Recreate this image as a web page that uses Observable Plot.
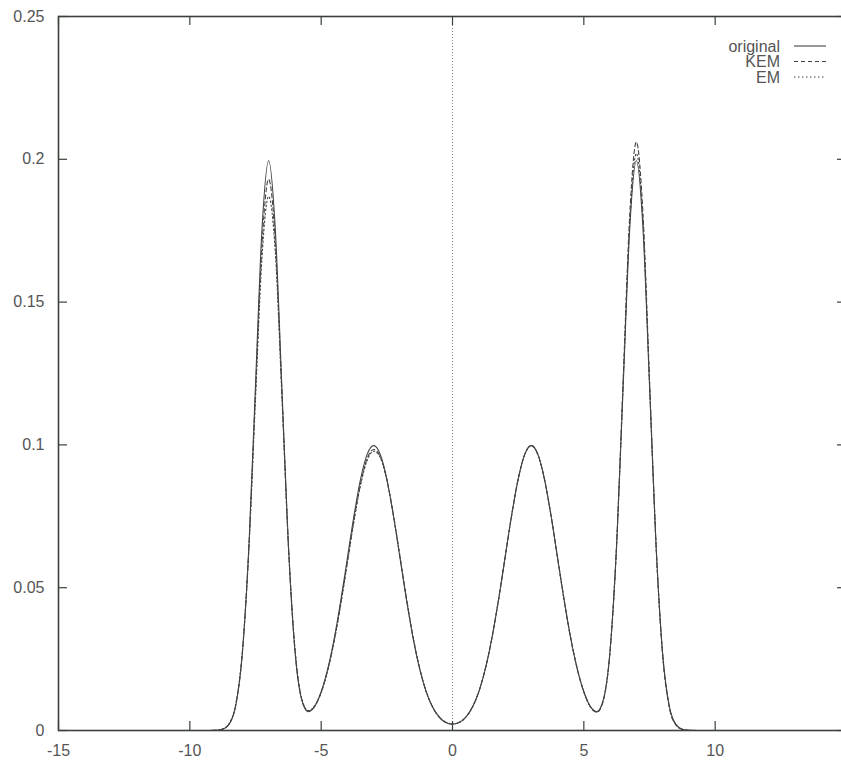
<!DOCTYPE html>
<html>
<head>
<meta charset="utf-8">
<script src="https://cdn.jsdelivr.net/npm/d3@7"></script>
<script src="https://cdn.jsdelivr.net/npm/@observablehq/plot@0.6"></script>
<style>
  html, body { margin: 0; padding: 0; background: #fff; }
  #chart { width: 841px; height: 762px; overflow: hidden; }
</style>
</head>
<body>
<div id="chart"></div>
<script>
// ---- data ----
const xValues = [-15, -9.5, -9, -8.75, -8.5, -8.25, -8, -7.75, -7.5, -7.25, -7, -6.75, -6.5, -6.25, -6, -5.75, -5.5, -5.25, -5, -4.75, -4.5, -4.25, -4, -3.75, -3.5, -3.25, -3, -2.75, -2.5, -2.25, -2, -1.75, -1.5, -1.25, -1, -0.75, -0.5, -0.25, 0, 0.25, 0.5, 0.75, 1, 1.25, 1.5, 1.75, 2, 2.25, 2.5, 2.75, 3, 3.25, 3.5, 3.75, 4, 4.25, 4.5, 4.75, 5, 5.25, 5.5, 5.75, 6, 6.25, 6.5, 6.75, 7, 7.25, 7.5, 7.75, 8, 8.25, 8.5, 8.75, 9, 9.5, 15];

const originalValues = [0, 0,
  0.00007, 0.00044, 0.00222, 0.00876, 0.02700, 0.06476, 0.12099, 0.17604, 0.19950, 0.17612, 0.12120, 0.06527,
  0.02810, 0.01104, 0.00660, 0.00837, 0.01357, 0.02158, 0.03238, 0.04566, 0.06049, 0.07529, 0.08802, 0.09667,
  0.09974, 0.09667, 0.08802, 0.07529, 0.06049, 0.04566, 0.03238, 0.02158, 0.01353, 0.00802, 0.00460, 0.00278, 0.00222,
  0.00278, 0.00460, 0.00802, 0.01353, 0.02158, 0.03238, 0.04566, 0.06049, 0.07529, 0.08802, 0.09667, 0.09974,
  0.09667, 0.08802, 0.07529, 0.06049, 0.04566, 0.03238, 0.02158, 0.01357, 0.00837, 0.00660, 0.01104, 0.02810,
  0.06527, 0.12120, 0.17612, 0.19950, 0.17604, 0.12099, 0.06476, 0.02700, 0.00876, 0.00222, 0.00044, 0.00007,
  0, 0];

const kemValues = [0, 0,
  0.00008, 0.00050, 0.00240, 0.00910, 0.02740, 0.06440, 0.11840, 0.17050, 0.19300, 0.17180, 0.11950, 0.06520,
  0.02850, 0.01130, 0.00690, 0.00850, 0.01340, 0.02120, 0.03170, 0.04470, 0.05920, 0.07380, 0.08640, 0.09520,
  0.09840, 0.09590, 0.08780, 0.07540, 0.06080, 0.04600, 0.03260, 0.02170, 0.01360, 0.00810, 0.00465, 0.00282, 0.00225,
  0.00280, 0.00462, 0.00803, 0.01352, 0.02156, 0.03235, 0.04562, 0.06045, 0.07525, 0.08800, 0.09668, 0.09976,
  0.09670, 0.08805, 0.07530, 0.06048, 0.04563, 0.03235, 0.02155, 0.01350, 0.00825, 0.00640, 0.01080, 0.02790,
  0.06560, 0.12360, 0.18100, 0.20600, 0.18120, 0.12300, 0.06480, 0.02640, 0.00830, 0.00200, 0.00038, 0.00006,
  0, 0];

const emValues = [0, 0,
  0.00008, 0.00052, 0.00250, 0.00930, 0.02760, 0.06400, 0.11600, 0.16600, 0.18700, 0.16800, 0.11800, 0.06560,
  0.02920, 0.01160, 0.00700, 0.00860, 0.01330, 0.02100, 0.03140, 0.04430, 0.05880, 0.07330, 0.08590, 0.09460,
  0.09780, 0.09560, 0.08770, 0.07550, 0.06100, 0.04620, 0.03270, 0.02180, 0.01365, 0.00812, 0.00466, 0.00283, 0.00226,
  0.00280, 0.00461, 0.00803, 0.01353, 0.02157, 0.03237, 0.04564, 0.06047, 0.07527, 0.08801, 0.09667, 0.09975,
  0.09668, 0.08803, 0.07529, 0.06049, 0.04565, 0.03237, 0.02157, 0.01355, 0.00832, 0.00652, 0.01095, 0.02800,
  0.06540, 0.12220, 0.17800, 0.20200, 0.17850, 0.12200, 0.06480, 0.02670, 0.00850, 0.00210, 0.00040, 0.00006,
  0, 0];

const seriesNames = ["original", "KEM", "EM"];
const xTicks = [-15, -10, -5, 0, 5, 10, 15];
const xLabelTicks = [-15, -10, -5, 0, 5, 10];
const xTickLabels = ["-15", "-10", "-5", "0", "5", "10"];
const yTicks = [0, 0.05, 0.1, 0.15, 0.2, 0.25];
const yTickLabels = ["0", "0.05", "0.1", "0.15", "0.2", "0.25"];
const zeroAxis = [0];

// ---- build table ----
const seriesValues = [originalValues, kemValues, emValues];
const rows = [];
seriesNames.forEach((name, s) => {
  xValues.forEach((x, i) => rows.push({series: name, x, y: seriesValues[s][i]}));
});

const dashes = {original: null, KEM: "4,3", EM: "1.5,2.5"};
const lineColor = "#444";
const frameColor = "#3a403a";

const W = 841, H = 762;
const mL = 58, mR = -5, mT = 16, mB = 32;
const plotW = W - mL - mR, plotH = H - mT - mB;
const tick = 9;

function legendMark(index, scales, values, dims) {
  const g = d3.create("svg:g")
    .attr("font-family", "'Liberation Sans', Arial, sans-serif")
    .attr("font-size", 16);
  const xr = dims.width - dims.marginRight;
  seriesNames.forEach((name, i) => {
    const y = dims.marginTop + 30 + i * 15.5;
    g.append("text")
      .attr("x", xr - 66).attr("y", y).attr("dy", "0.35em")
      .attr("text-anchor", "end").attr("fill", "#555")
      .text(name);
    g.append("line")
      .attr("x1", xr - 52).attr("x2", xr - 20)
      .attr("y1", y).attr("y2", y)
      .attr("stroke", lineColor).attr("stroke-width", 1.1)
      .attr("stroke-dasharray", dashes[name]);
  });
  return g.node();
}

const chart = Plot.plot({
  width: W, height: H,
  marginLeft: mL, marginRight: mR, marginTop: mT, marginBottom: mB,
  style: {fontFamily: "'Liberation Sans', Arial, sans-serif", fontSize: "16px", color: "#555", background: "#fff"},
  x: {domain: [-15, 15], label: null},
  y: {domain: [0, 0.25], label: null},
  marks: [
    Plot.ruleX(zeroAxis, {x: d => d, stroke: "#888", strokeWidth: 1, strokeDasharray: "1,2"}),
    // inward ticks
    Plot.ruleX(xTicks, {x: d => d, insetTop: plotH - tick, stroke: frameColor, strokeWidth: 1.2}),
    Plot.ruleX(xTicks, {x: d => d, insetBottom: plotH - tick, stroke: frameColor, strokeWidth: 1.2}),
    Plot.ruleY(yTicks, {y: d => d, insetRight: plotW - tick, stroke: frameColor, strokeWidth: 1.2}),
    Plot.ruleY(yTicks, {y: d => d, insetLeft: plotW - tick, stroke: frameColor, strokeWidth: 1.2}),
    Plot.axisX({ticks: xLabelTicks, tickSize: 0, tickPadding: 14, tickFormat: d => xTickLabels[xLabelTicks.indexOf(d)], fontSize: 16, fill: "#555"}),
    Plot.axisY({ticks: yTicks, tickSize: 0, tickPadding: 14, tickFormat: d => yTickLabels[yTicks.indexOf(d)], fontSize: 16, fill: "#555"}),
    Plot.line(rows, {
      filter: d => d.series === "original", x: "x", y: "y",
      stroke: lineColor, strokeWidth: 1.1, curve: "monotone-x"
    }),
    Plot.line(rows, {
      filter: d => d.series === "KEM", x: "x", y: "y",
      stroke: lineColor, strokeWidth: 1.1, strokeDasharray: dashes.KEM, curve: "monotone-x"
    }),
    Plot.line(rows, {
      filter: d => d.series === "EM", x: "x", y: "y",
      stroke: lineColor, strokeWidth: 1.1, strokeDasharray: dashes.EM, curve: "monotone-x"
    }),
    Plot.frame({stroke: frameColor, strokeWidth: 1.6}),
    legendMark
  ]
});
document.getElementById("chart").appendChild(chart);
</script>
</body>
</html>
